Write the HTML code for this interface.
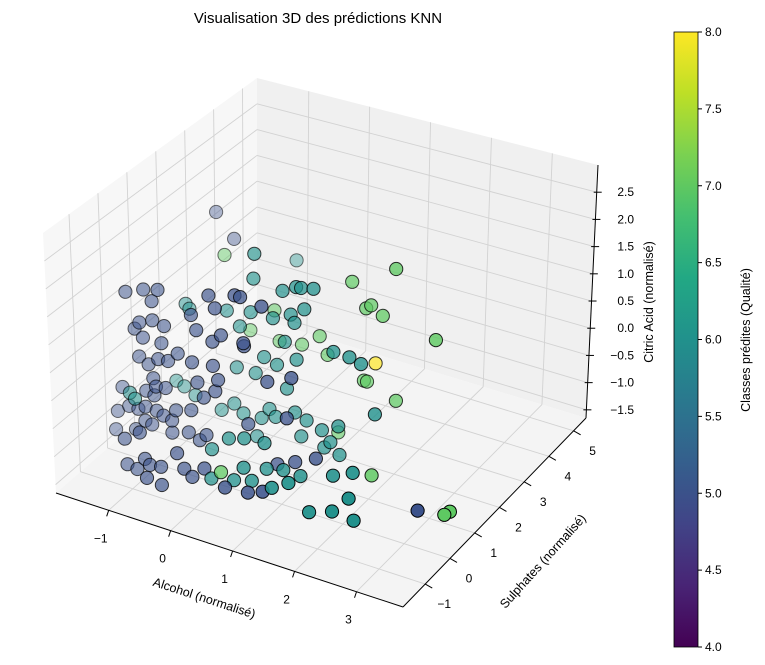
<!DOCTYPE html>
<html><head><meta charset="utf-8"><style>
body{margin:0;background:#fff;}
svg{display:block;font-family:"Liberation Sans",sans-serif;}
</style></head><body>
<svg id="chart" width="765" height="665" viewBox="0 0 765 665" xmlns="http://www.w3.org/2000/svg">
<defs>
<linearGradient id="viridis" x1="0" y1="1" x2="0" y2="0">
<stop offset="0" stop-color="#440154"/><stop offset="0.1" stop-color="#482475"/><stop offset="0.2" stop-color="#414487"/><stop offset="0.3" stop-color="#355f8d"/><stop offset="0.4" stop-color="#2a788e"/><stop offset="0.5" stop-color="#21918c"/><stop offset="0.6" stop-color="#22a884"/><stop offset="0.7" stop-color="#44bf70"/><stop offset="0.8" stop-color="#7ad151"/><stop offset="0.9" stop-color="#bddf26"/><stop offset="1" stop-color="#fde725"/>
</linearGradient>
</defs>
<text x="318" y="23" font-size="15" text-anchor="middle">Visualisation 3D des prédictions KNN</text>
<g id="panes"></g>
<g id="grid"></g>
<g id="axes"></g>
<g id="points"></g>
<text font-size="12.5" text-anchor="middle" transform="translate(203,602) rotate(18)">Alcohol (normalisé)</text>
<text font-size="12.5" text-anchor="middle" transform="translate(546,564) rotate(-48)">Sulphates (normalisé)</text>
<text font-size="12.5" text-anchor="middle" transform="translate(653,302) rotate(-90)">Citric Acid (normalisé)</text>
<g id="colorbar">
<rect x="674" y="32" width="24" height="615" fill="url(#viridis)" stroke="#000" stroke-width="0.8"/>
</g>
<text font-size="12.5" text-anchor="middle" transform="translate(750,340) rotate(-90)">Classes prédites (Qualité)</text>
</svg>
<script>
// ---- data (normalised features, predicted class) ----
const alcohol = [-1.36,-1.07,-1.70,-1.41,-1.18,-0.36,0.06,0.15,-1.28,-1.49,-1.28,-1.09,-0.57,-0.65,-0.26,0.49,-1.57,-1.44,-1.14,-0.17,-0.31,0.19,0.20,-1.51,-1.20,-1.36,-0.88,-1.04,-0.65,-0.31,0.57,0.96,-0.57,-0.23,-1.29,-1.80,-1.41,-1.25,-1.09,-1.28,-1.89,-1.70,-1.55,-1.43,-1.25,-0.93,-1.00,-0.68,-0.47,-0.28,0.25,0.88,-1.93,-1.60,-1.44,-1.33,-1.14,-1.00,-0.73,-0.55,-1.33,-1.08,-0.44,0.72,1.01,1.35,-1.30,-1.14,-1.01,-0.93,-0.75,-0.76,-0.52,-0.48,-0.37,-0.24,-0.04,0.51,0.88,1.12,3.62,
-0.06,-0.50,-0.08,-1.19,-1.13,0.61,0.69,0.89,0.39,-0.13,-0.52,-0.31,0.52,0.58,0.74,0.23,0.42,0.08,1.21,1.47,1.66,-0.37,-0.06,0.29,0.61,0.45,0.16,-1.37,-1.24,-1.06,-1.45,-1.37,1.29,1.89,-0.63,-0.27,-0.42,0.03,0.26,0.58,0.77,1.02,1.16,-0.13,0.15,0.40,-0.05,0.73,0.68,1.06,1.31,0.07,0.76,1.03,1.31,1.84,2.16,1.27,1.54,1.87,2.24,2.59,2.51,0.44,0.60,0.73,
-1.00,1.08,1.79,-0.19,1.39,1.31,1.58,-0.59,-0.11,0.26,0.55,0.68,1.28,1.33,2.45,1.81,0.86,2.05,0.23,3.65,3.66,
1.47];
const sulphates = [3,3,0.5,0.5,0.5,0.5,0.5,0.5,0.5,0.5,0.5,0.5,0.5,0.5,0.5,0.5,0.5,0.5,0.5,0.5,0.5,0.5,0.5,0.5,0.5,0.5,0.5,0.5,0.5,0.5,0.5,0.5,0.5,0.5,0.5,0.5,0.5,0.5,0.5,0.5,0.5,0.5,0.5,0.5,0.5,0.5,0.5,0.5,0.5,0.5,0.5,0.5,0.5,0.5,0.5,0.5,0.5,0.5,0.5,0.5,-0.5,-0.5,0.5,0.5,0.5,0.5,-0.5,-0.5,-0.5,-0.5,-0.5,-1,-1,-0.5,-0.5,-0.5,-0.5,-1,-1,-1,-1,
1.5,4,1.5,1.5,1.5,1.5,1.5,1.5,1.5,1.5,1.5,1.5,1.5,1.5,1.5,1.5,1.5,1.5,1.5,1.5,1.5,1.5,1.5,1.5,1.5,1.5,1.5,1.5,1.5,1.5,0,0,1.5,1.5,1.5,1.5,1.5,1.5,1.5,1.5,1.5,1.5,1.5,0,0,0,1.5,0,1.5,1.5,1.5,-0.5,0,0,0,0,0,-1,-1,-1,-1,-1,-1,-0.5,-0.5,-0.5,
2.5,2.5,2.5,2.5,2.5,2.5,2.5,2.5,2.5,2.5,2.5,2.5,2.5,2.5,2.5,2.5,2.5,1,-0.5,0,0.2,
2.5];
const citric = [1.62,1.21,1.05,1.19,1.26,1.43,1.57,1.57,1.02,0.56,0.67,0.63,0.73,0.98,1.23,1.51,0.42,0.30,0.30,0.77,0.61,0.75,0.70,-0.07,-0.01,-0.16,0.20,0.01,0.12,0.17,0.18,0.38,-0.22,-0.06,-0.39,-0.73,-0.66,-0.53,-0.50,-0.70,-1.20,-1.04,-1.04,-0.96,-0.97,-0.85,-1.06,-0.76,-0.46,-0.28,-0.69,-0.37,-1.55,-1.43,-1.22,-1.25,-1.02,-1.28,-1.18,-1.26,-1.08,-0.88,-1.13,-1.25,-1.11,-0.93,-1.53,-1.56,-1.33,-1.41,-1.38,-1.37,-1.41,-1.04,-1.28,-1.38,-1.16,-1.09,-1.05,-0.95,-0.42,
1.88,0.57,1.42,0.59,0.52,1.49,1.50,1.55,1.35,0.79,0.69,0.47,0.96,0.83,1.13,0.80,0.43,0.04,0.51,0.50,0.44,-0.30,-0.30,-0.03,0.17,-0.41,-0.88,-0.89,-0.95,-1.05,-0.50,-0.58,-0.81,-0.39,-1.17,-1.11,-0.98,-1.09,-0.99,-0.80,-0.88,-0.97,-1.14,-1.06,-0.77,-0.68,-1.45,-0.65,-1.20,-1.27,-1.32,-1.30,-1.10,-1.03,-1.04,-0.85,-0.69,-0.83,-0.65,-1.05,-0.91,-0.95,-0.59,-1.20,-0.92,-1.11,
1.14,1.32,1.78,0.38,0.99,0.91,0.86,-0.12,-0.16,-0.10,0.15,-0.15,-0.42,-0.42,0.70,-0.61,-1.51,-1.21,-1.13,-0.92,-0.95,
-0.04];
const predictedClass = [5,5,5,5,5,5,5,5,5,5,5,5,5,5,5,5,5,5,5,5,5,5,5,5,5,5,5,5,5,5,5,5,5,5,5,5,5,5,5,5,5,5,5,5,5,5,5,5,5,5,5,5,5,5,5,5,5,5,5,5,5,5,5,5,5,5,5,5,5,5,5,5,5,5,5,5,5,5,5,5,5,
6,6,6,6,6,6,6,6,6,6,6,6,6,6,6,6,6,6,6,6,6,6,6,6,6,6,6,6,6,6,6,6,6,6,6,6,6,6,6,6,6,6,6,6,6,6,6,6,6,6,6,6,6,6,6,6,6,6,6,6,6,6,6,6,6,6,
7,7,7,7,7,7,7,7,7,7,7,7,7,7,7,7,7,7,7,7,7,
8];
const xTicks = [-1,0,1,2,3];
const yTicks = [-1,0,1,2,3,4,5];
const zTicks = [-1.5,-1.0,-0.5,0.0,0.5,1.0,1.5,2.0,2.5];
const cbTicks = [4.0,4.5,5.0,5.5,6.0,6.5,7.0,7.5,8.0];

// ---- axes / projection ----
const XR=[-1.85,3.75], YR=[-1.9,5.5], ZR=[-1.65,3.0];
const C={ '000':[56,493],'100':[403,607],'110':[586,418],'010':[257,318],
          '001':[43,233],'101':[403,337],'111':[598,165],'011':[257,78]};
function P(x,y,z){
  const u=(x-XR[0])/(XR[1]-XR[0]), v=(y-YR[0])/(YR[1]-YR[0]), w=(z-ZR[0])/(ZR[1]-ZR[0]);
  let sx=0,sy=0;
  for(const a of [0,1])for(const b of [0,1])for(const c of [0,1]){
    const k=(a?u:1-u)*(b?v:1-v)*(c?w:1-w); const p=C[''+a+b+c];
    sx+=k*p[0]; sy+=k*p[1];
  }
  return [sx,sy];
}
const NS='http://www.w3.org/2000/svg';
function mk(tag,attrs,parent){const e=document.createElementNS(NS,tag);for(const k in attrs)e.setAttribute(k,attrs[k]);parent.appendChild(e);return e;}
function poly(pts){return pts.map(p=>p[0].toFixed(1)+','+p[1].toFixed(1)).join(' ');}
const panes=document.getElementById('panes'),grid=document.getElementById('grid'),axes=document.getElementById('axes'),ptsG=document.getElementById('points');
let e;
e=mk('polygon',{points:poly([P(XR[0],YR[0],ZR[0]),P(XR[0],YR[1],ZR[0]),P(XR[0],YR[1],ZR[1]),P(XR[0],YR[0],ZR[1])]),fill:'#f7f7f7'},panes);


e=mk('polygon',{points:poly([P(XR[0],YR[1],ZR[0]),P(XR[1],YR[1],ZR[0]),P(XR[1],YR[1],ZR[1]),P(XR[0],YR[1],ZR[1])]),fill:'#f0f0f0'},panes);


e=mk('polygon',{points:poly([P(XR[0],YR[0],ZR[0]),P(XR[1],YR[0],ZR[0]),P(XR[1],YR[1],ZR[0]),P(XR[0],YR[1],ZR[0])]),fill:'#f4f4f4'},panes);


function gl(a,b){const l=mk('line',{x1:a[0],y1:a[1],x2:b[0],y2:b[1],stroke:'#d2d2d2','stroke-width':0.9},grid);

}
xTicks.forEach(t=>{gl(P(t,YR[0],ZR[0]),P(t,YR[1],ZR[0]));gl(P(t,YR[1],ZR[0]),P(t,YR[1],ZR[1]));});
yTicks.forEach(t=>{gl(P(XR[0],t,ZR[0]),P(XR[1],t,ZR[0]));gl(P(XR[0],t,ZR[0]),P(XR[0],t,ZR[1]));});
zTicks.forEach(t=>{gl(P(XR[0],YR[0],t),P(XR[0],YR[1],t));gl(P(XR[0],YR[1],t),P(XR[1],YR[1],t));});
function al(a,b,name){const l=mk('line',{x1:a[0],y1:a[1],x2:b[0],y2:b[1],stroke:'#000','stroke-width':1},axes);

}
al(P(XR[0],YR[0],ZR[0]),P(XR[1],YR[0],ZR[0]),'x-axis-line');
al(P(XR[1],YR[0],ZR[0]),P(XR[1],YR[1],ZR[0]),'y-axis-line');
al(P(XR[1],YR[1],ZR[0]),P(XR[1],YR[1],ZR[1]),'z-axis-line');
function lbl(x,y,txt,anchor,name){const t=mk('text',{x:x,y:y,'font-size':12,'text-anchor':anchor},axes);t.textContent=txt;

}
const fmtN=v=>(v<0?'\u2212':'')+Math.abs(v);
xTicks.forEach(t=>{const p=P(t,YR[0],ZR[0]);al(p,[p[0]-2,p[1]+6],'x-tick');lbl(p[0]-8,p[1]+32,fmtN(t),'middle','x-tick-label');});
yTicks.forEach(t=>{const p=P(XR[1],t,ZR[0]);al(p,[p[0]+7,p[1]+4],'y-tick');lbl(p[0]+19,p[1]+24,fmtN(t),'middle','y-tick-label');});
zTicks.forEach(t=>{const p=P(XR[1],YR[1],t);al([p[0]-3,p[1]],[p[0]+5,p[1]],'z-tick');lbl(634,p[1]+4,(t<0?'\u2212':'')+Math.abs(t).toFixed(1),'end','z-tick-label');});
// ---- points ----
const cmap={4:'#440154',5:'#3b528b',6:'#21918c',7:'#5ec962',8:'#fde725'};
const items=alcohol.map((x,i)=>{const y=sulphates[i],z=citric[i];
  const d=(x-XR[0])/(XR[1]-XR[0])*0.55+(YR[1]-y)/(YR[1]-YR[0])*0.45+(z-ZR[0])/(ZR[1]-ZR[0])*0.1;
  return {x,y,z,c:predictedClass[i],d};});
const dmin=Math.min(...items.map(o=>o.d)),dmax=Math.max(...items.map(o=>o.d));
items.sort((a,b)=>a.d-b.d);
items.forEach(o=>{const p=P(o.x,o.y,o.z);const a=Math.min(1,0.4+0.75*(o.d-dmin)/(dmax-dmin));
  const c=mk('circle',{cx:p[0].toFixed(1),cy:p[1].toFixed(1),r:6.6,fill:cmap[o.c],'fill-opacity':a.toFixed(2),stroke:'#000','stroke-opacity':(a*0.8+0.2).toFixed(2),'stroke-width':1},ptsG);
  
  
});
// ---- colorbar ticks ----
const cb=document.getElementById('colorbar');
cbTicks.forEach(t=>{const y=647-(t-4)/4*615;
  const l=mk('line',{x1:698,y1:y,x2:702,y2:y,stroke:'#000','stroke-width':1},cb);
  
  
  const tx=mk('text',{x:705,y:y+4,'font-size':12},cb);tx.textContent=t.toFixed(1);
  
  
});
</script>
</body></html>
